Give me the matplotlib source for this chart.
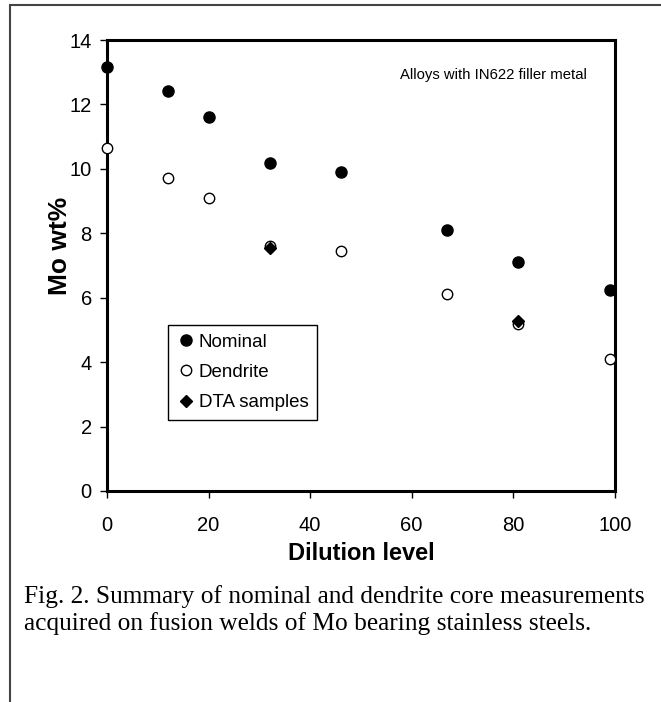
import matplotlib
matplotlib.use("Agg")
import matplotlib.pyplot as plt
from matplotlib.patches import Rectangle

plt.rcParams['font.family'] = ['Liberation Sans', 'DejaVu Sans']

# data
dilution = [0, 12, 20, 32, 46, 67, 81, 99]
nominal = [13.15, 12.42, 11.6, 10.18, 9.89, 8.1, 7.1, 6.23]
dendrite = [10.64, 9.72, 9.1, 7.6, 7.46, 6.13, 5.18, 4.1]
dta_dilution = [32, 81]
dta = [7.54, 5.27]

fig = plt.figure(figsize=(6.61, 7.02), dpi=100)
ax = fig.add_axes([0.162, 0.3006, 0.768, 0.6424])

ax.plot(dilution, nominal, 'o', color='black', markersize=8, label='Nominal', clip_on=False, zorder=3)
ax.plot(dilution, dendrite, 'o', markerfacecolor='white', markeredgecolor='black',
        markeredgewidth=1, markersize=7.5, label='Dendrite', clip_on=False, zorder=3)
ax.plot(dta_dilution, dta, 'D', color='black', markersize=6.5, label='DTA samples', clip_on=False, zorder=4)

ax.set_xlim(0, 100)
ax.set_ylim(0, 14)
ax.set_xticks(range(0, 101, 20))
ax.set_yticks(range(0, 15, 2))
for s in ax.spines.values():
    s.set_linewidth(2.2)
ax.tick_params(direction='out', length=5, width=1, labelsize=14.5, pad=6)
ax.tick_params(axis='x', pad=13)

ax.set_xlabel('Dilution level', fontsize=17, fontweight='bold', labelpad=5)
ax.set_ylabel('Mo wt%', fontsize=19, fontweight='bold')
ax.yaxis.set_label_coords(-0.069, 0.543)

ax.text(0.577, 0.922, 'Alloys with IN622 filler metal', transform=ax.transAxes,
        fontsize=10.7, va='center', ha='left')

leg = ax.legend(loc='upper left', bbox_to_anchor=(0.12, 0.368), fontsize=13.5,
                frameon=True, fancybox=False, edgecolor='black', framealpha=1,
                handletextpad=0.2, handlelength=1.0, borderpad=0.45, labelspacing=0.7,
                borderaxespad=0)
leg.get_frame().set_linewidth(1)

fig.text(0.036, 0.166, 'Fig. 2. Summary of nominal and dendrite core measurements\n'
         'acquired on fusion welds of Mo bearing stainless steels.',
         fontsize=18.3, family=['Liberation Serif'], va='top', ha='left', linespacing=1.2)

# outer frame (only left and top edges visible)
fig.patches.append(Rectangle((10 / 661, -0.1), 1.2, 0.1 + 1 - 5 / 702, transform=fig.transFigure,
                             fill=False, edgecolor='#444444', linewidth=1.5))

fig.savefig('out.png', dpi=100)
